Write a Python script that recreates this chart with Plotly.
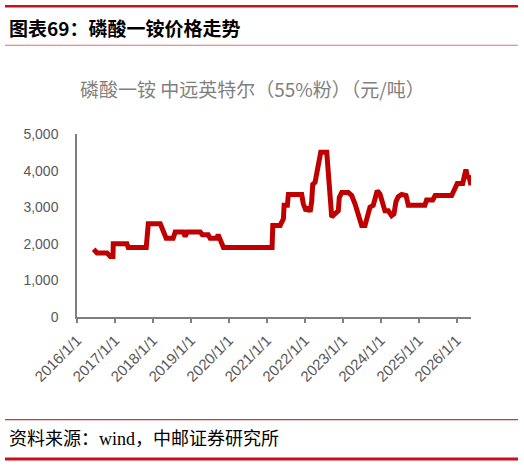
import plotly.graph_objects as go

dates = [
    "2016-06-09", "2016-07-12", "2016-10-16", "2016-11-16", "2016-12-12", "2016-12-15",
    "2017-04-25", "2017-05-08", "2017-10-28", "2017-11-10", "2017-11-17",
    "2018-03-12", "2018-04-10", "2018-05-08", "2018-07-14", "2018-08-03", "2018-10-19",
    "2018-11-07", "2018-11-26", "2019-04-01", "2019-04-20", "2019-06-16", "2019-07-05",
    "2019-09-07", "2019-09-20", "2019-10-18", "2019-11-10", "2021-02-20", "2021-02-27",
    "2021-05-08", "2021-06-09", "2021-06-16", "2021-07-17", "2021-07-27", "2021-12-02",
    "2021-12-17", "2022-01-13", "2022-02-04", "2022-02-21", "2022-03-08", "2022-03-18",
    "2022-04-10", "2022-04-26", "2022-05-18", "2022-06-03", "2022-07-31", "2022-08-15",
    "2022-09-01", "2022-09-17", "2022-10-18", "2022-11-19", "2022-11-29", "2022-12-22",
    "2023-02-24", "2023-03-28", "2023-04-28", "2023-05-31", "2023-07-02", "2023-08-03",
    "2023-08-25", "2023-09-20", "2023-10-21", "2023-11-16", "2023-11-29", "2023-12-25",
    "2024-01-20", "2024-02-11", "2024-03-14", "2024-04-15", "2024-05-08", "2024-05-27",
    "2024-06-18", "2024-07-21", "2024-09-01", "2024-09-23", "2025-03-01", "2025-03-18",
    "2025-05-16", "2025-06-08", "2025-11-14", "2025-12-16", "2026-01-07", "2026-02-28",
    "2026-03-14", "2026-03-31", "2026-04-13", "2026-05-01", "2026-05-19",
]
prices = [
    1850, 1750, 1750, 1650, 1650, 2000,
    2000, 1900, 1900, 2200, 2550,
    2550, 2370, 2150, 2150, 2320, 2320,
    2200, 2320, 2320, 2250, 2250, 2150,
    2150, 2250, 2000, 1900, 1900, 2500,
    2500, 2680, 3050, 3050, 3350, 3350,
    3100, 2900, 3000, 2870, 3150, 3620,
    3680, 3900, 4350, 4500, 4500, 3900,
    2900, 2730, 2820, 2900, 3270, 3400,
    3400, 3320, 3100, 2770, 2500, 2500,
    2730, 3000, 3050, 3320, 3450, 3360,
    3150, 2900, 2900, 2770, 2820, 3150,
    3290, 3350, 3320, 3050, 3050, 3200,
    3200, 3320, 3320, 3500, 3650, 3650,
    3860, 4030, 3860, 3820, 3600,
]
tick_dates = ["2016-01-01", "2017-01-01", "2018-01-01", "2019-01-01", "2020-01-01",
              "2021-01-01", "2022-01-01", "2023-01-01", "2024-01-01", "2025-01-01",
              "2026-01-01"]
tick_labels = ["2016/1/1", "2017/1/1", "2018/1/1", "2019/1/1", "2020/1/1",
               "2021/1/1", "2022/1/1", "2023/1/1", "2024/1/1", "2025/1/1",
               "2026/1/1"]
y_ticks = [0, 1000, 2000, 3000, 4000, 5000]

fig = go.Figure()
fig.add_trace(go.Scatter(
    x=dates, y=prices, mode="lines",
    line=dict(color="#C00000", width=5),
    showlegend=False, hoverinfo="x+y",
))

W, H = 524, 466
L, R, T, B = 77, 53, 133.5, 149
pw, ph = W - L - R, H - T - B

def px(X):
    return (X - L) / pw

def py(Y):
    return (H - B - Y) / ph

fig.update_layout(
    width=W, height=H,
    margin=dict(l=L, r=R, t=T, b=B, autoexpand=False),
    paper_bgcolor="white", plot_bgcolor="white",
    font=dict(family="Liberation Sans, Noto Sans CJK SC", color="#595959"),
    xaxis=dict(
        type="date",
        range=["2016-01-01", "2026-05-19"],
        tickvals=tick_dates, ticktext=tick_labels,
        tickangle=-45,
        tickfont=dict(size=15, color="#595959"),
        showgrid=False, zeroline=False,
        showline=True, linecolor="#7F7F7F", linewidth=1.5,
        ticks="outside", ticklen=4, tickcolor="#7F7F7F", tickwidth=1.5,
        ticklabelstandoff=3,
    ),
    yaxis=dict(
        range=[0, 5000],
        tickvals=y_ticks,
        tickformat=",",
        tickfont=dict(size=14, color="#595959"),
        showgrid=False, zeroline=False,
        showline=True, linecolor="#7F7F7F", linewidth=1.5,
        ticks="", ticklabelstandoff=14,
    ),
    shapes=[
        dict(type="line", xref="paper", yref="paper", x0=px(5), x1=px(518),
             y0=py(5.5), y1=py(5.5), line=dict(color="#C8101E", width=2.5)),
        dict(type="line", xref="paper", yref="paper", x0=px(5), x1=px(518),
             y0=py(44.5), y1=py(44.5), line=dict(color="#E07070", width=1)),
        dict(type="line", xref="paper", yref="paper", x0=px(5), x1=px(518),
             y0=py(420), y1=py(420), line=dict(color="#C00000", width=1)),
        dict(type="line", xref="paper", yref="paper", x0=px(5), x1=px(518),
             y0=py(459.5), y1=py(459.5), line=dict(color="#C8101E", width=3)),
    ],
    annotations=[
        dict(text="<b>图表69：磷酸一铵价格走势</b>", xref="paper", yref="paper",
             x=px(7), y=py(27), xanchor="left", yanchor="middle", showarrow=False,
             font=dict(size=19, color="#000000", family="Noto Sans CJK SC")),
        dict(text="磷酸一铵 中远英特尔（55%粉）（元/吨）", xref="paper", yref="paper",
             x=px(252), y=py(88), xanchor="center", yanchor="middle", showarrow=False,
             font=dict(size=19, color="#7F7F7F", family="Noto Sans CJK SC")),
        dict(text="资料来源：wind，中邮证券研究所", xref="paper", yref="paper",
             x=px(7), y=py(439), xanchor="left", yanchor="middle", showarrow=False,
             font=dict(size=18, color="#000000", family="Liberation Serif, Noto Sans CJK SC")),
    ],
)

fig.write_html("out.html", config={"displayModeBar": False},
               post_script="document.body.style.margin='0';")
